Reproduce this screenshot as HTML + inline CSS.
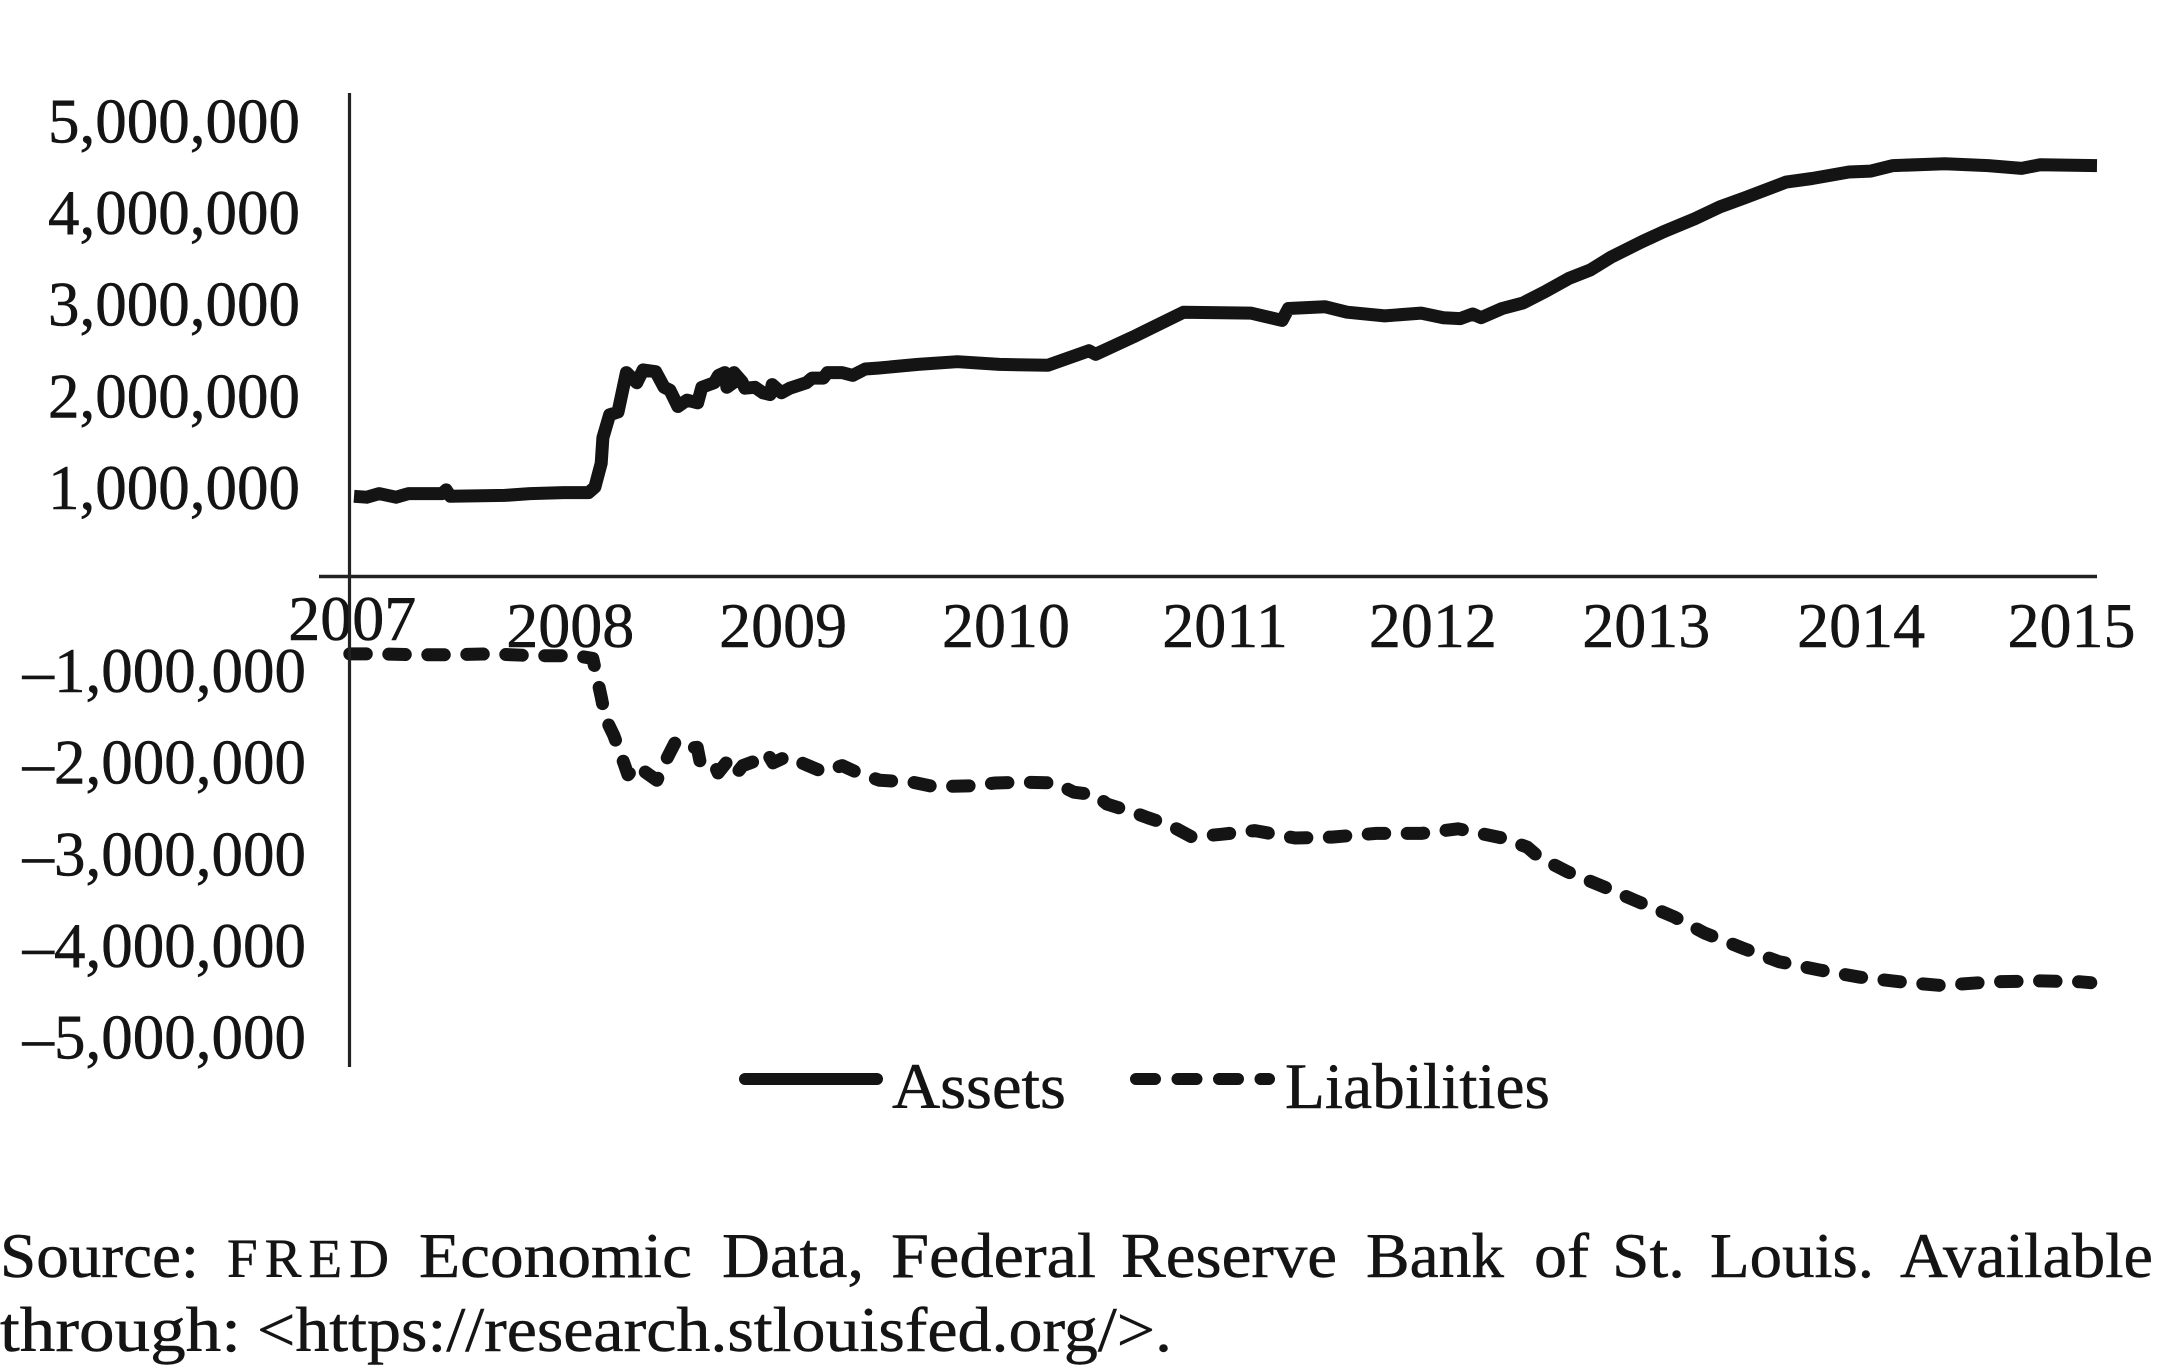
<!DOCTYPE html>
<html lang="en">
<head>
<meta charset="utf-8">
<title>Federal Reserve Assets and Liabilities</title>
<style>
html,body{margin:0;padding:0;background:#fff;width:2157px;height:1369px;overflow:hidden}
svg{display:block}
text{font-family:"Liberation Serif",serif;fill:#141414;stroke:#141414;stroke-width:0.5px}
</style>
</head>
<body>
<svg id="chart" xmlns="http://www.w3.org/2000/svg" width="2157" height="1369" viewBox="0 0 2157 1369">
  <rect x="0" y="0" width="2157" height="1369" fill="#ffffff"/>
  <g id="yTicks" font-size="63"></g>
  <g id="xTicks" font-size="64"></g>
  <path id="assetsLine" fill="none" stroke="#141414" stroke-width="13" stroke-linejoin="round"/>
  <path id="liabilitiesLine" fill="none" stroke="#141414" stroke-width="13" stroke-linecap="round" stroke-linejoin="round" stroke-dasharray="16.5 22.5"/>
  <line x1="349.5" y1="93" x2="349.5" y2="1067" stroke="#222" stroke-width="3.2"/>
  <line x1="319" y1="576.5" x2="2097" y2="576.5" stroke="#222" stroke-width="3.6"/>
  <g>
    <line x1="745" y1="1079" x2="877" y2="1079" stroke="#141414" stroke-width="12" stroke-linecap="round"/>
    <text x="892" y="1108" font-size="65" textLength="174" lengthAdjust="spacingAndGlyphs">Assets</text>
    <line x1="1136" y1="1079" x2="1269" y2="1079" stroke="#141414" stroke-width="12" stroke-linecap="round" stroke-dasharray="19 22.5"/>
    <text x="1285" y="1108" font-size="65" textLength="265" lengthAdjust="spacingAndGlyphs">Liabilities</text>
  </g>
  <g font-size="64">
    <text x="0" y="1277" textLength="199" lengthAdjust="spacingAndGlyphs">Source:</text>
    <text x="227" y="1277" font-size="55" textLength="162" lengthAdjust="spacing">FRED</text>
    <text x="419" y="1277" textLength="273" lengthAdjust="spacingAndGlyphs">Economic</text>
    <text x="722" y="1277" textLength="142" lengthAdjust="spacingAndGlyphs">Data,</text>
    <text x="891" y="1277" textLength="205" lengthAdjust="spacingAndGlyphs">Federal</text>
    <text x="1121" y="1277" textLength="216" lengthAdjust="spacingAndGlyphs">Reserve</text>
    <text x="1366" y="1277" textLength="138" lengthAdjust="spacingAndGlyphs">Bank</text>
    <text x="1534" y="1277" textLength="55" lengthAdjust="spacingAndGlyphs">of</text>
    <text x="1612" y="1277" textLength="73" lengthAdjust="spacingAndGlyphs">St.</text>
    <text x="1710" y="1277" textLength="164" lengthAdjust="spacingAndGlyphs">Louis.</text>
    <text x="1900" y="1277" textLength="253" lengthAdjust="spacingAndGlyphs">Available</text>
    <text x="0" y="1351" textLength="241" lengthAdjust="spacingAndGlyphs">through:</text>
    <text x="257" y="1351" textLength="915" lengthAdjust="spacingAndGlyphs">&lt;https://research.stlouisfed.org/&gt;.</text>
  </g>
</svg>
<script>
// Series values in millions; weeks counted from the start of 2007.
const assetWeeks = [0,3,6,10,13,21,22,23,36,42,50,56,57.5,59,59.4,61,63,65,67.5,69,72,74,75.4,77.3,79.5,82,83,86,87,88.5,89,90.5,90.7,92.6,93.3,95.7,97.6,99.3,99.8,102,104,108,109.3,112,113,116.5,119,122,125,134.6,144,154,165.6,175.4,177,186,198,214,221.5,223,231.7,237,246,254.7,260,264,267,269,274,279,284.5,290,295,300,307.4,312.6,320,326,332,341.8,348,356.8,362,367.3,379.7,390,398,402.4,416];
const assetValues = [0.87,0.86,0.90,0.86,0.90,0.90,0.94,0.87,0.88,0.90,0.91,0.91,0.97,1.23,1.51,1.76,1.79,2.22,2.11,2.25,2.23,2.06,2.03,1.85,1.92,1.89,2.06,2.11,2.19,2.22,2.06,2.11,2.22,2.12,2.05,2.06,2.00,1.98,2.09,2.00,2.05,2.11,2.16,2.16,2.22,2.22,2.19,2.26,2.27,2.31,2.34,2.31,2.30,2.46,2.42,2.61,2.88,2.87,2.79,2.92,2.94,2.88,2.84,2.87,2.82,2.81,2.86,2.82,2.92,2.98,3.11,3.25,3.34,3.48,3.65,3.76,3.90,4.03,4.13,4.30,4.34,4.41,4.42,4.48,4.50,4.48,4.45,4.49,4.48];
const liabilityWeeks = [-1,5.5,15,21,33,43,53,57,58,59,60,62,64,65.4,67.5,69.5,72.3,74.7,76.6,77.8,79.5,81.9,82.6,85.7,86.9,89,91,92.8,95.2,98.6,100,103.3,108.4,112,116.5,120.3,125.5,133.2,138.4,147.7,153,159.4,167.3,171.8,177,179.7,186,189.5,194.7,200,207,215,224.6,233.4,244,254.7,263.5,274,280,282.8,289.7,298.6,305.7,315,322.4,331.3,340,349.6,359.4,369,378.8,391,402.4,412,414.5];
const liabilityValues = [-0.85,-0.85,-0.86,-0.86,-0.85,-0.87,-0.87,-0.90,-1.11,-1.32,-1.55,-1.74,-1.99,-2.17,-2.06,-2.14,-2.23,-1.99,-1.82,-1.81,-1.88,-1.87,-2.03,-2.03,-2.15,-2.03,-2.17,-2.07,-2.03,-1.93,-2.04,-1.97,-2.07,-2.14,-2.07,-2.15,-2.23,-2.25,-2.30,-2.29,-2.26,-2.25,-2.26,-2.36,-2.39,-2.49,-2.58,-2.64,-2.72,-2.85,-2.82,-2.78,-2.86,-2.85,-2.81,-2.81,-2.76,-2.86,-2.96,-3.07,-3.23,-3.40,-3.54,-3.72,-3.90,-4.06,-4.21,-4.30,-4.38,-4.43,-4.47,-4.43,-4.42,-4.43,-4.44];
const yearLabels = ["2007","2008","2009","2010","2011","2012","2013","2014","2015"];
const yearLabelWeeks = [-0.4,51.6,102.4,155.6,207.9,257.5,308.4,359.7,409.9];
const valueTicks = [5,4,3,2,1,-1,-2,-3,-4,-5];

function xScale(week){ return 354 + week * 4.19; }
function yScale(value){ return 576 - value * 91.6; }
function linePath(weeks, values){
  return weeks.map(function(w,i){
    return (i ? 'L' : 'M') + xScale(w).toFixed(1) + ' ' + yScale(values[i]).toFixed(1);
  }).join(' ');
}
function formatTick(v){
  return (v < 0 ? '\u2013' : '') + Math.abs(v) + ',000,000';
}
const NS = 'http://www.w3.org/2000/svg';

document.getElementById('assetsLine').setAttribute('d', linePath(assetWeeks, assetValues));
document.getElementById('liabilitiesLine').setAttribute('d', linePath(liabilityWeeks, liabilityValues));

const yGroup = document.getElementById('yTicks');
valueTicks.forEach(function(v){
  const t = document.createElementNS(NS, 'text');
  
  
  t.setAttribute('x', v < 0 ? 306 : 300);
  t.setAttribute('y', (yScale(v) + 24.5).toFixed(1));
  t.setAttribute('text-anchor', 'end');
  t.textContent = formatTick(v);
  yGroup.appendChild(t);
});

const xGroup = document.getElementById('xTicks');
yearLabels.forEach(function(label, i){
  const t = document.createElementNS(NS, 'text');
  
  
  t.setAttribute('x', xScale(yearLabelWeeks[i]).toFixed(1));
  t.setAttribute('y', i === 0 ? 640 : 647);
  t.setAttribute('text-anchor', 'middle');
  t.textContent = label;
  xGroup.appendChild(t);
});
</script>
</body>
</html>
